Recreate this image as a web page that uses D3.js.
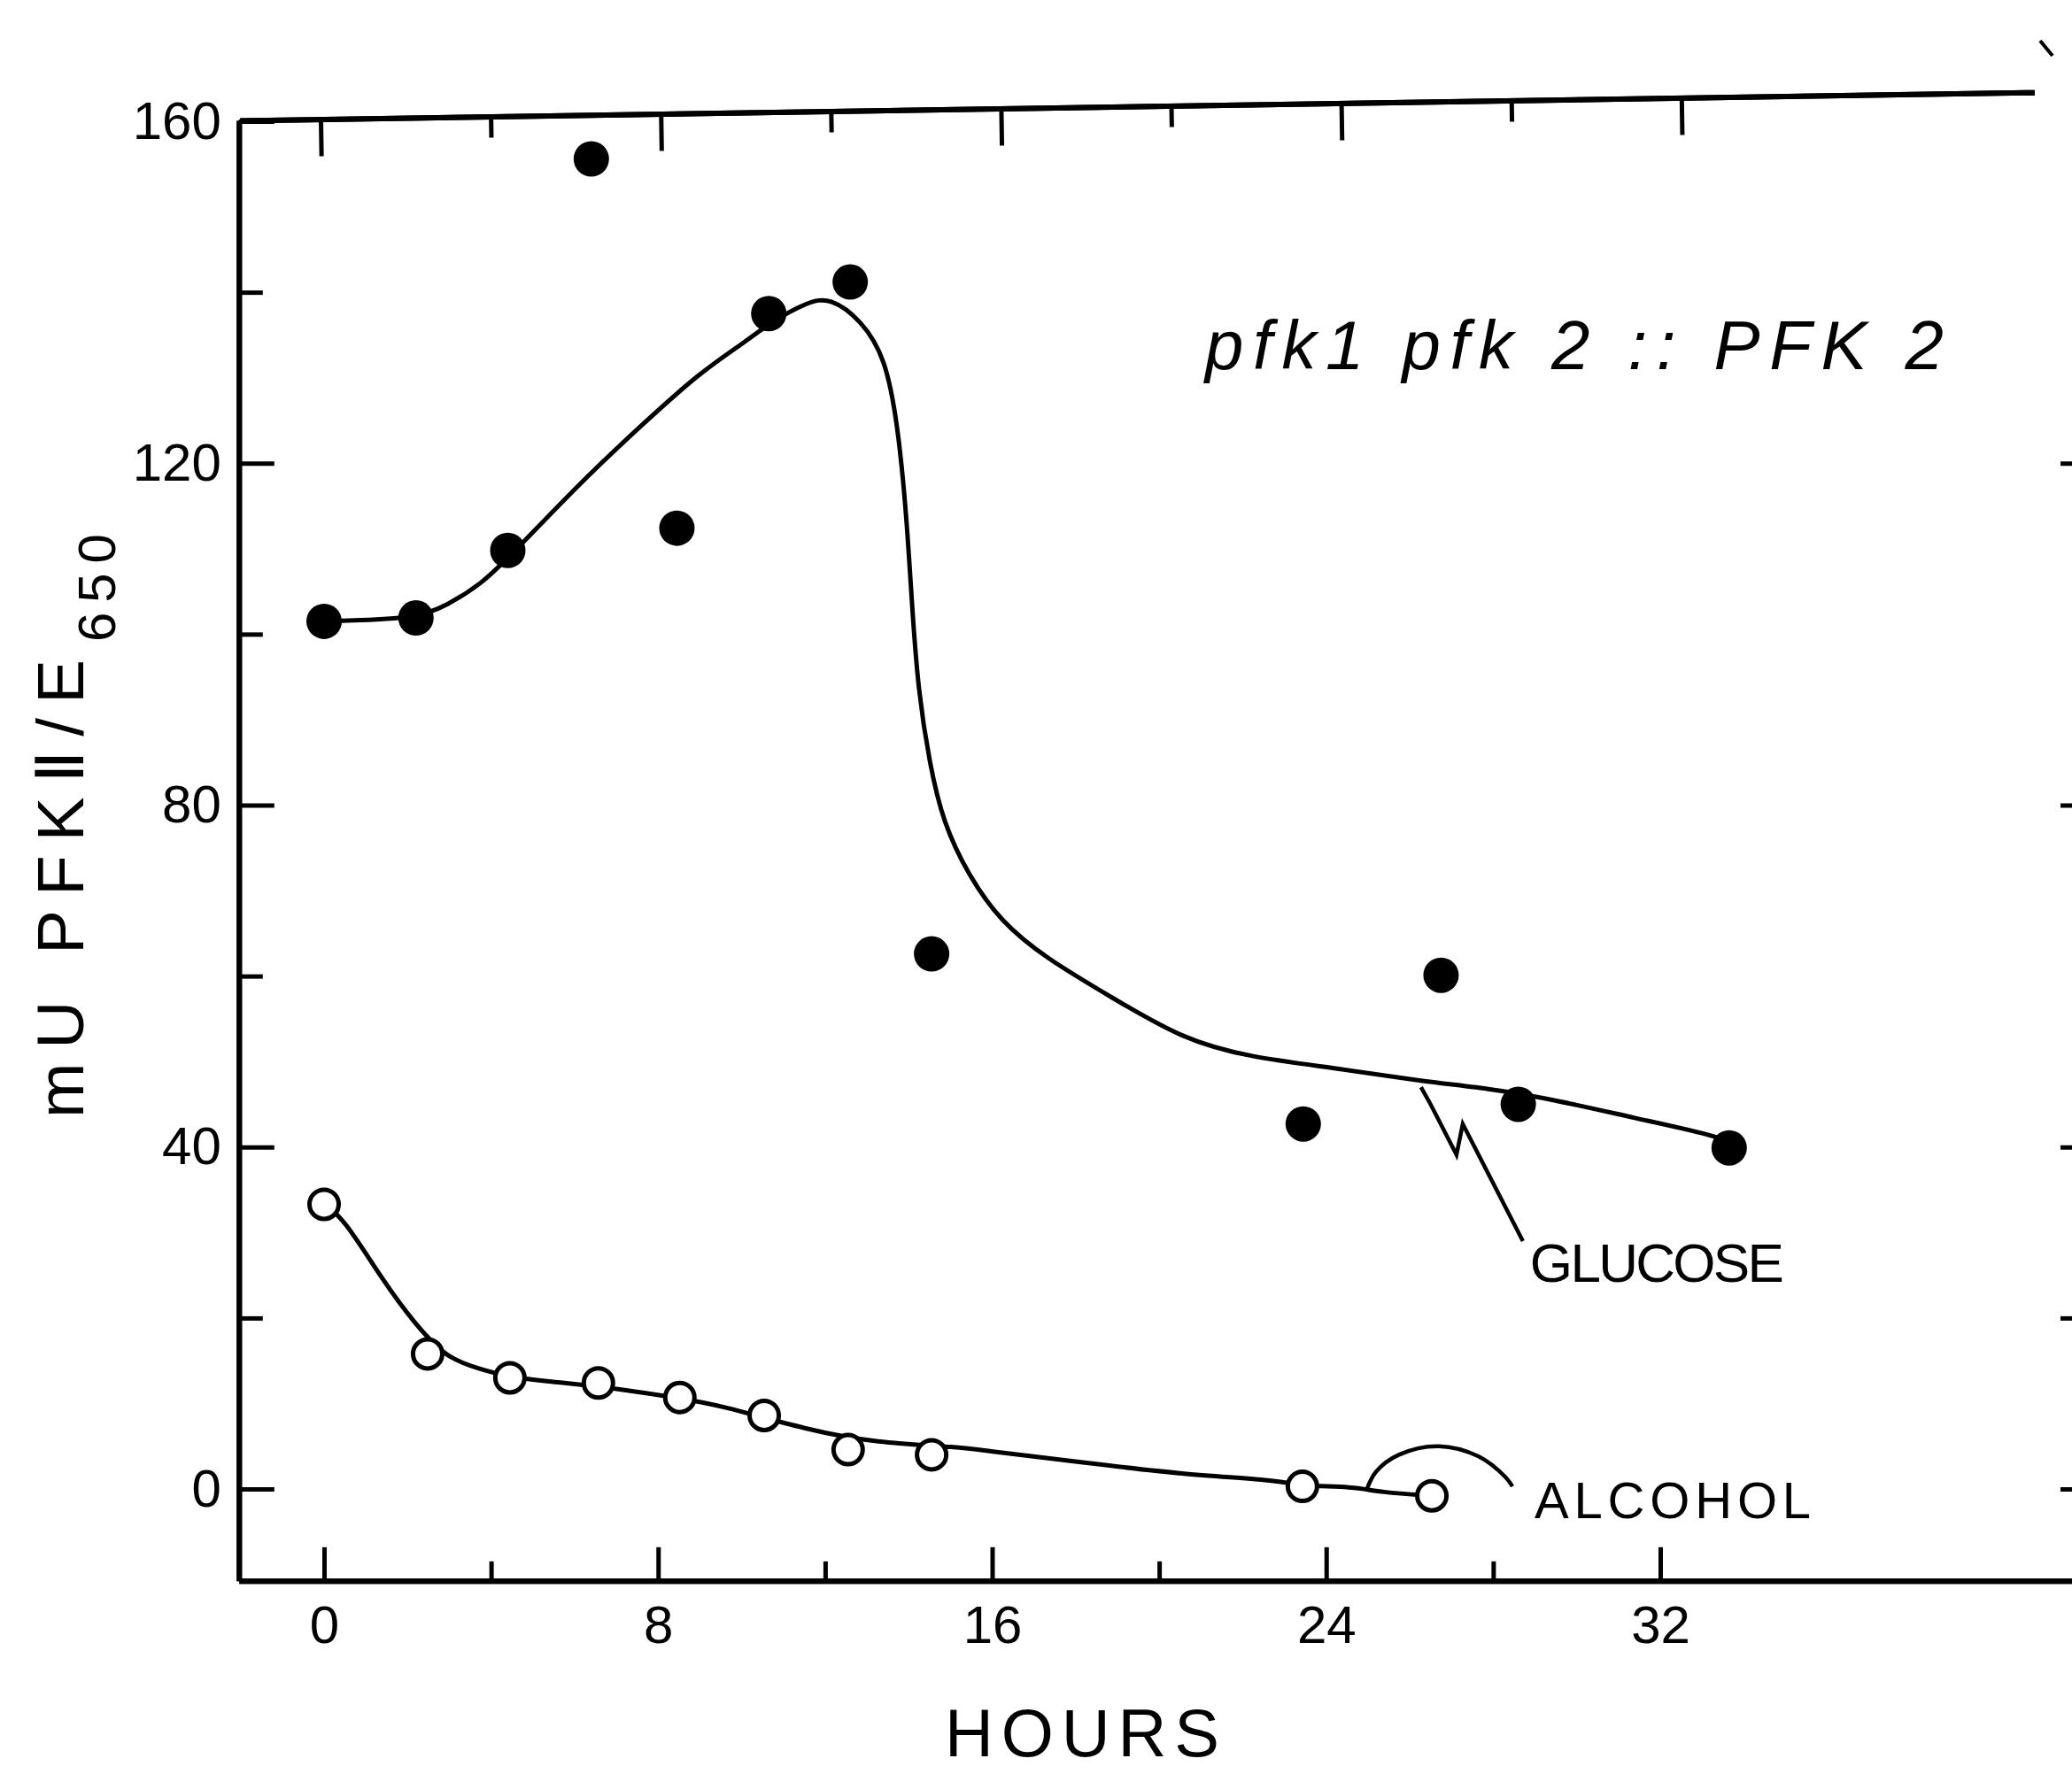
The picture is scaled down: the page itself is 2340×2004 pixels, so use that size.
<!DOCTYPE html>
<html><head><meta charset="utf-8">
<script src="https://cdn.jsdelivr.net/npm/d3@7"></script>
<style>html,body{margin:0;padding:0;background:#fff;} svg{display:block;}</style>
</head><body>
<svg id="chart" width="2340" height="2004"></svg>
<script>
// ---------- data ----------
const glucoseHours  = [0, 2.2, 4.4, 6.4, 8.45, 10.65, 12.6, 14.55, 23.45, 26.75, 28.6, 33.65];
const glucoseValues = [101.5, 101.9, 109.8, 155.6, 112.4, 137.5, 141.2, 62.6, 42.7, 60.1, 45.0, 39.9];

const alcoholHours  = [0, 2.48, 4.45, 6.57, 8.52, 10.54, 12.55, 14.55, 23.43, 26.53];
const alcoholValues = [33.3, 15.8, 13.0, 12.4, 10.7, 8.6, 4.6, 4.0, 0.3, -0.8];

// hand-drawn fitted curves
const glucoseCurveHours  = [0, 0.76, 2.2, 2.93, 3.8, 4.41, 6.17, 7.57, 8.99, 10.18, 10.67, 11.58, 12.13, 12.87, 13.44, 13.74, 13.95, 14.08, 14.23, 14.5, 14.82, 15.44, 16.2, 17.28, 18.9, 20.53, 22.14, 24.3, 26.27, 27.99, 29.5, 31.38, 33.18, 33.65];
const glucoseCurveValues = [101.5, 101.6, 101.9, 103.3, 106.0, 108.9, 117.9, 124.3, 130.6, 134.5, 136.4, 138.9, 139.4, 136.7, 132.4, 124.5, 113.9, 103.3, 93.3, 84.9, 78.0, 71.7, 66.4, 62.1, 57.4, 52.7, 50.5, 49.2, 47.7, 46.8, 45.5, 43.4, 41.5, 40.6];

const alcoholCurveHours  = [0, 0.45, 1.42, 2.16, 2.93, 3.69, 4.45, 5.64, 7.25, 8.52, 9.41, 11.58, 13.2, 15.27, 15.8, 18.17, 20.55, 22.9, 23.43, 24.62, 25.3, 26.53];
const alcoholCurveValues = [33.3, 31.8, 24.3, 19.4, 15.3, 14.1, 13.0, 12.5, 11.6, 10.6, 9.9, 6.9, 5.4, 4.9, 4.5, 3.1, 1.7, 1.0, 0.3, 0.3, -0.4, -0.8];

// annotation leader lines (data units)
const glucoseLeaderHours  = [26.27, 26.5, 27.12, 27.27, 28.71];
const glucoseLeaderValues = [47.0, 45.0, 39.1, 42.7, 29.0];
const alcoholLeaderHours  = [24.96, 25.19, 25.74, 26.70, 27.65, 28.29, 28.46];
const alcoholLeaderValues = [-0.2, 2.0, 4.0, 5.0, 3.8, 1.4, 0.3];

// axes
const xTicks = [0, 4, 8, 12, 16, 20, 24, 28, 32];
const xTickLabels = ["0", "8", "16", "24", "32"];
const yTicks = [0, 20, 40, 60, 80, 100, 120, 140, 160];
const yTickLabels = ["0", "40", "80", "120", "160"];
const rightTicks = [0, 20, 40, 80, 120];

const xTitle = "HOURS";
const yTitleMain = "mU PFK\u2161/E";
const yTitleSub = "650";
const plotTitle = "pfk1 pfk 2 :: PFK 2";
const glucoseLabel = "GLUCOSE";
const alcoholLabel = "ALCOHOL";

// ---------- drawing ----------
const svg = d3.select("#chart");
const FONT = "'Liberation Sans', Arial, 'DejaVu Sans', sans-serif";

const x = d3.scaleLinear().domain([0, 32]).range([366, 1875]);
const y = d3.scaleLinear().domain([0, 160]).range([1682, 137]);
const xFrame = [-2.04, 42.6];
const yFrame = [-10.75, 160.1];
const xa = x.copy().domain(xFrame).range(xFrame.map(x));
const ya = y.copy().domain(yFrame).range(yFrame.map(y));
const xTop = d3.scaleLinear().domain([0, 32]).range([362, 1899]);
const xTopA = xTop.copy().domain([-1.9, 40.3]).range([-1.9, 40.3].map(xTop));

const x0 = xa(xFrame[0]);
const yBottom = ya(yFrame[0]);
const yTopPix = ya(yFrame[1]);

function styleAxis(g) {
  g.selectAll("path.domain").attr("stroke", "#000").attr("stroke-width", 6).attr("fill", "none");
  g.selectAll(".tick line").attr("stroke", "#000").attr("stroke-width", 5);
  g.selectAll(".tick text").attr("fill", "#000").attr("font-family", FONT).attr("font-size", 60);
}

// bottom axis: minor ticks + major ticks with labels
const isMajorX = d => d % 8 === 0;
svg.append("g").attr("transform", `translate(0,${yBottom})`)
  .call(d3.axisBottom(xa).tickValues(xTicks.filter(d => !isMajorX(d))).tickSize(-22).tickSizeOuter(0).tickFormat(""))
  .call(styleAxis);
svg.append("g").attr("transform", `translate(0,${yBottom})`)
  .call(d3.axisBottom(xa).tickValues(xTicks.filter(isMajorX)).tickSize(-38).tickSizeOuter(0).tickPadding(28)
    .tickFormat((d, i) => xTickLabels[i]))
  .call(styleAxis);

// top axis (slightly slanted like the original)
const topG = svg.append("g").attr("transform", `rotate(-0.9, ${x0}, ${yTopPix}) translate(0,${yTopPix})`);
topG.append("g").call(d3.axisTop(xTopA).tickValues(xTicks.filter(d => !isMajorX(d))).tickSize(-24).tickSizeOuter(0).tickFormat("")).call(styleAxis);
topG.append("g").call(d3.axisTop(xTopA).tickValues(xTicks.filter(isMajorX)).tickSize(-42).tickSizeOuter(0).tickFormat("")).call(styleAxis);

// left axis
const isMajorY = d => d % 40 === 0;
svg.append("g").attr("transform", `translate(${x0},0)`)
  .call(d3.axisLeft(ya).tickValues(yTicks.filter(d => !isMajorY(d))).tickSize(-27).tickSizeOuter(0).tickFormat(""))
  .call(styleAxis);
svg.append("g").attr("transform", `translate(${x0},0)`)
  .call(d3.axisLeft(ya).tickValues(yTicks.filter(isMajorY)).tickSize(-40).tickSizeOuter(0).tickPadding(20)
    .tickFormat((d, i) => yTickLabels[i]))
  .call(styleAxis);

// right frame (mostly cut off at the picture edge)
svg.append("g").attr("transform", `translate(2352,0)`)
  .call(d3.axisRight(ya).tickValues(rightTicks).tickSize(-25).tickSizeOuter(0).tickFormat(""))
  .call(styleAxis);
svg.append("line").attr("x1", 2304).attr("y1", 46).attr("x2", 2318).attr("y2", 63)
  .attr("stroke", "#000").attr("stroke-width", 4);

// curves (smooth hand-drawn style)
const smooth = d3.line().x(d => x(d[0])).y(d => y(d[1])).curve(d3.curveBasis);
svg.append("path").datum(d3.zip(glucoseCurveHours, glucoseCurveValues))
  .attr("d", smooth).attr("fill", "none").attr("stroke", "#000").attr("stroke-width", 5);
svg.append("path").datum(d3.zip(alcoholCurveHours, alcoholCurveValues))
  .attr("d", smooth).attr("fill", "none").attr("stroke", "#000").attr("stroke-width", 5);

// leaders
svg.append("path").datum(d3.zip(glucoseLeaderHours, glucoseLeaderValues))
  .attr("d", d3.line().x(d => x(d[0])).y(d => y(d[1])))
  .attr("fill", "none").attr("stroke", "#000").attr("stroke-width", 4.5).attr("stroke-linejoin", "miter");
svg.append("path").datum(d3.zip(alcoholLeaderHours, alcoholLeaderValues))
  .attr("d", d3.line().x(d => x(d[0])).y(d => y(d[1])).curve(d3.curveCatmullRom.alpha(0.5)))
  .attr("fill", "none").attr("stroke", "#000").attr("stroke-width", 4.5);

// points
svg.append("g").selectAll("circle").data(d3.zip(glucoseHours, glucoseValues)).join("circle")
  .attr("cx", d => x(d[0])).attr("cy", d => y(d[1])).attr("r", 20).attr("fill", "#000");
svg.append("g").selectAll("circle").data(d3.zip(alcoholHours, alcoholValues)).join("circle")
  .attr("cx", d => x(d[0])).attr("cy", d => y(d[1])).attr("r", 16.5)
  .attr("fill", "#fff").attr("stroke", "#000").attr("stroke-width", 5);

// texts
svg.append("text").attr("x", 1067).attr("y", 1984).attr("font-family", FONT).attr("font-size", 76)
  .attr("textLength", 310).attr("lengthAdjust", "spacing").text(xTitle);

svg.append("text").attr("transform", "translate(94,1263) rotate(-90)")
  .attr("font-family", FONT).attr("font-size", 75)
  .attr("textLength", 518).attr("lengthAdjust", "spacing").text(yTitleMain);
svg.append("text").attr("transform", "translate(130,725) rotate(-90)")
  .attr("font-family", FONT).attr("font-size", 60)
  .attr("textLength", 122).attr("lengthAdjust", "spacing").text(yTitleSub);

svg.append("text").attr("x", 1361).attr("y", 417).attr("font-family", FONT).attr("font-size", 78)
  .attr("font-style", "italic").attr("textLength", 834).attr("lengthAdjust", "spacing").text(plotTitle);

svg.append("text").attr("x", x(28.88)).attr("y", 1448).attr("font-family", FONT).attr("font-size", 62)
  .attr("textLength", 287).attr("lengthAdjust", "spacing").text(glucoseLabel);
svg.append("text").attr("x", x(28.99)).attr("y", 1715).attr("font-family", FONT).attr("font-size", 58)
  .attr("textLength", 312).attr("lengthAdjust", "spacing").text(alcoholLabel);
</script>
</body></html>
